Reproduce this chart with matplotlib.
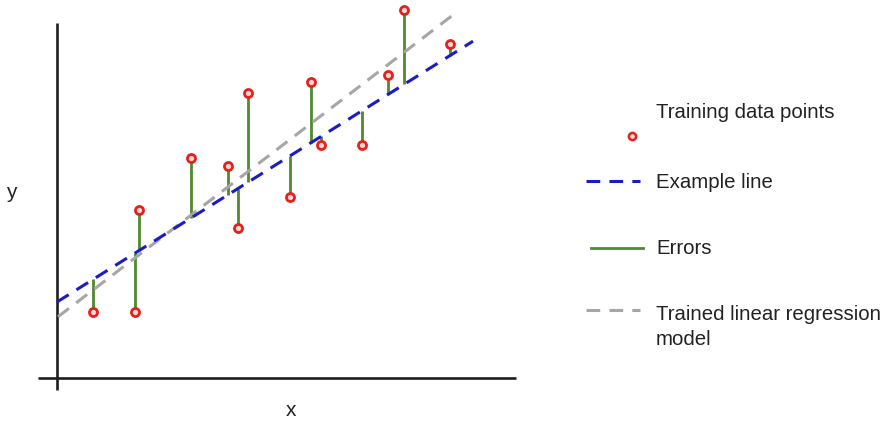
import matplotlib
matplotlib.use("Agg")
import matplotlib.pyplot as plt
import numpy as np

plt.rcParams['font.family'] = ['Liberation Sans', 'DejaVu Sans']

# Training data (arbitrary units)
x_points = [36, 78, 82, 134, 171, 181, 191, 233, 254, 264, 305, 331, 347, 393]
y_points = [66, 66, 168, 220, 212, 150, 285, 181, 296, 233, 233, 303, 368, 334]

# Example line (blue) and trained model (grey)
example_intercept, example_slope = 76.0, 0.627
example_x_range = [0, 416]
trained_intercept, trained_slope = 60.5, 0.764
trained_x_range = [1, 400]

legend_labels = ["Training data points", "Example line", "Errors",
                 "Trained linear regression\nmodel"]

RED = '#e3221c'
GREEN = '#4f8a30'
BLUE = '#1b1bc8'
GREY = '#a6a6a6'

fig = plt.figure(figsize=(8.86, 4.31), dpi=100)
ax = fig.add_axes([0, 0, 1, 1])
ax.set_xlim(-57, 829)
ax.set_ylim(-52, 379)
ax.axis('off')

# axis lines
ax.plot([0, 0], [-12, 355], color='#1e1e1e', lw=1.9, solid_capstyle='butt')
ax.plot([-19, 459], [0, 0], color='#1e1e1e', lw=1.9, solid_capstyle='butt')

xp = np.array(x_points, dtype=float)
yp = np.array(y_points, dtype=float)
y_on_line = example_intercept + example_slope * xp

# errors
ax.vlines(xp, yp, y_on_line, color=GREEN, lw=2.0, zorder=2)

# trained line
tx = np.array(trained_x_range, dtype=float)
ax.plot(tx, trained_intercept + trained_slope * tx, color=GREY, lw=2.2,
        dashes=(4.5, 3), zorder=3)
# example line
ex = np.array(example_x_range, dtype=float)
ax.plot(ex, example_intercept + example_slope * ex, color=BLUE, lw=2.2,
        dashes=(4.5, 3), zorder=4)

# points
ax.plot(xp, yp, 'o', ms=5.8, mfc='#ffd6d6', mec=RED, mew=2.0, zorder=5,
        clip_on=False)

# axis labels
ax.text(234, -32, 'x', fontsize=15, ha='center', va='center', color='#222222')
ax.text(-46, 186, 'y', fontsize=15, ha='center', va='center', color='#222222')

# legend (manual)
fs = 14.7
tc = '#222222'
ax.plot([575], [242], 'o', ms=5.2, mfc='#ffd6d6', mec=RED, mew=1.8, clip_on=False)
ax.text(599, 267, legend_labels[0], fontsize=fs, va='center', color=tc)
ax.plot([529, 583], [197, 197], color=BLUE, lw=2.2, dashes=(4.5, 3))
ax.text(599, 197, legend_labels[1], fontsize=fs, va='center', color=tc)
ax.plot([534, 586], [130, 130], color=GREEN, lw=2.0)
ax.text(599, 130, legend_labels[2], fontsize=fs, va='center', color=tc)
ax.plot([529, 583], [68, 68], color=GREY, lw=2.2, dashes=(4.5, 3))
ax.text(599, 52, legend_labels[3], fontsize=fs, va='center', color=tc,
        linespacing=1.42)

fig.savefig('out.png', dpi=100)
